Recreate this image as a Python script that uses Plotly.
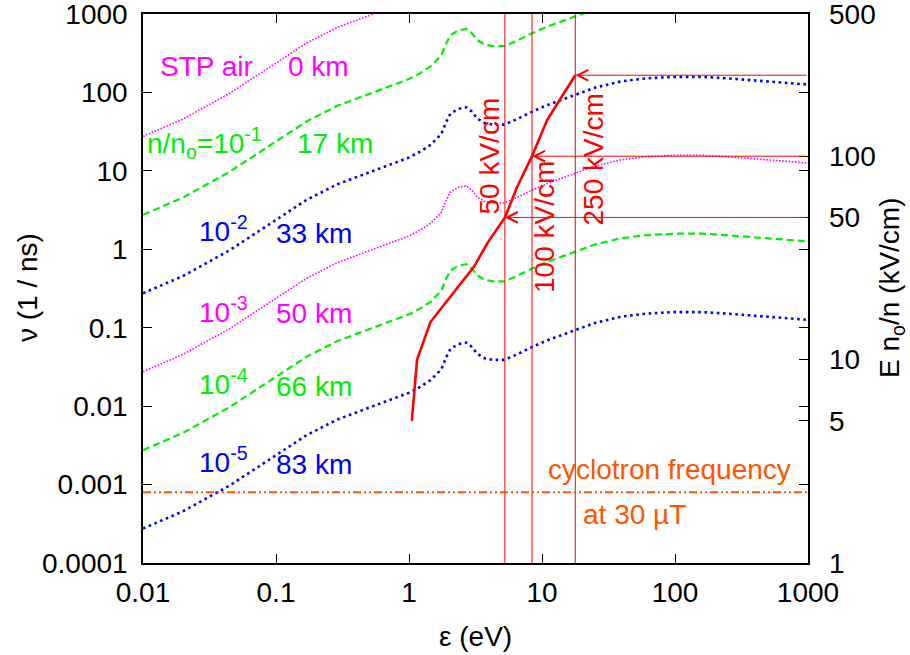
import math
import plotly.graph_objects as go

# ---------------- data ----------------
# electron energy grid (eV)
eps = [0.01, 0.02, 0.045, 0.1, 0.17, 0.29, 0.46, 0.7, 1.0, 1.2, 1.45, 1.75, 1.9, 2.05,
       2.35, 2.7, 2.95, 3.25, 3.7, 4.3, 5.2, 6.5, 8.3, 11, 17, 25, 39, 60, 97, 160,
       250, 400, 650, 1000]

# collision frequency nu (1/ns) at each altitude / relative density
nu_0km = [27.5, 45.7, 97.7, 240, 427, 676, 912, 1180, 1480, 1740, 2140, 2950, 4170, 5370,
          6170, 6460, 5750, 4680, 4070, 3890, 3890, 4570, 5620, 6920, 9120, 11500, 13800, 15100, 15800, 15800,
          15100, 14300, 13500, 12600]
nu_17km = [2.75, 4.57, 9.77, 24.0, 42.7, 67.6, 91.2, 118, 148, 174, 214, 295, 417, 537,
           617, 646, 575, 468, 407, 389, 389, 457, 562, 692, 912, 1150, 1380, 1510, 1580, 1580,
           1510, 1430, 1350, 1260]
nu_33km = [0.275, 0.457, 0.977, 2.40, 4.27, 6.76, 9.12, 11.8, 14.8, 17.4, 21.4, 29.5, 41.7, 53.7,
           61.7, 64.6, 57.5, 46.8, 40.7, 38.9, 38.9, 45.7, 56.2, 69.2, 91.2, 115, 138, 151, 158, 158,
           151, 143, 135, 126]
nu_50km = [0.0275, 0.0457, 0.0977, 0.240, 0.427, 0.676, 0.912, 1.18, 1.48, 1.74, 2.14, 2.95, 4.17, 5.37,
           6.17, 6.46, 5.75, 4.68, 4.07, 3.89, 3.89, 4.57, 5.62, 6.92, 9.12, 11.5, 13.8, 15.1, 15.8, 15.8,
           15.1, 14.3, 13.5, 12.6]
nu_66km = [0.00275, 0.00457, 0.00977, 0.0240, 0.0427, 0.0676, 0.0912, 0.118, 0.148, 0.174, 0.214, 0.295, 0.417, 0.537,
           0.617, 0.646, 0.575, 0.468, 0.407, 0.389, 0.389, 0.457, 0.562, 0.692, 0.912, 1.15, 1.38, 1.51, 1.58, 1.58,
           1.51, 1.43, 1.35, 1.26]
nu_83km = [0.000275, 0.000457, 0.000977, 0.00240, 0.00427, 0.00676, 0.00912, 0.0118, 0.0148, 0.0174, 0.0214, 0.0295, 0.0417, 0.0537,
           0.0617, 0.0646, 0.0575, 0.0468, 0.0407, 0.0389, 0.0389, 0.0457, 0.0562, 0.0692, 0.0912, 0.115, 0.138, 0.151, 0.158, 0.158,
           0.151, 0.143, 0.135, 0.126]

# reduced field vs mean energy (right axis, kV/cm)
eps_field = [1.05, 1.15, 1.45, 1.73, 2.44, 3.07, 3.87, 5.26, 6.5, 8.41, 10.9, 13.8, 17.8]
E_field = [5.0, 10.0, 15.3, 17.8, 23.6, 28.5, 37.2, 50, 70.5, 100, 150, 192, 250]

# marked fields and the energies they correspond to
E_marks = [50, 100, 250]
eps_marks = [5.26, 8.41, 17.8]
mark_labels = ["50 kV/cm", "100 kV/cm", "250 kV/cm"]

# electron cyclotron frequency at 30 microtesla (1/ns)
nu_cyclotron = 8.0e-4

x_tickvals = [0.01, 0.1, 1, 10, 100, 1000]
x_ticktext = ["0.01", "0.1", "1", "10", "100", "1000"]
y_tickvals = [1e-4, 1e-3, 1e-2, 0.1, 1, 10, 100, 1000]
y_ticktext = ["0.0001", "0.001", "0.01", "0.1", "1", "10", "100", "1000"]
y2_tickvals = [1, 5, 10, 50, 100, 500]
y2_ticktext = ["1", "5", "10", "50", "100", "500"]

# ---------------- styles ----------------
FONT = "Liberation Sans, Arial, Helvetica, sans-serif"
FS = 28
MAGENTA = "#ff00ff"
GREEN = "#00ee00"
BLUE = "#0000ff"
RED = "#ff0000"
ORANGE = "#ff5500"

W, H = 910, 655
ML, MR, MT, MB = 143, 102, 14, 92
PW, PH = W - ML - MR, H - MT - MB


def px(xp):
    return (xp - ML) / PW


def py(yp):
    return (H - MB - yp) / PH


fig = go.Figure()

mag_line = dict(color=MAGENTA, width=1.6, dash="1.6px,1.6px")
green_line = dict(color=GREEN, width=2.2, dash="7px,4px")
blue_line = dict(color=BLUE, width=2.6, dash="2.6px,3.6px")

series = [
    (nu_0km, mag_line), (nu_17km, green_line), (nu_33km, blue_line),
    (nu_50km, mag_line), (nu_66km, green_line), (nu_83km, blue_line),
]
for ys, ln in series:
    fig.add_trace(go.Scatter(x=eps, y=ys, mode="lines", line=ln, hoverinfo="skip"))

# vertical marker lines
for e in eps_marks:
    fig.add_trace(go.Scatter(x=[e, e], y=[y_tickvals[0], y_tickvals[-1]], mode="lines",
                             line=dict(color=RED, width=1), hoverinfo="skip"))

# cyclotron frequency line
fig.add_trace(go.Scatter(x=[x_tickvals[0], x_tickvals[-1]], y=[nu_cyclotron, nu_cyclotron], mode="lines",
                         line=dict(color=ORANGE, width=2, dash="8px,3px,2px,3px,2px,3px"), hoverinfo="skip"))

# field curve on right axis
fig.add_trace(go.Scatter(x=eps_field, y=E_field, mode="lines", yaxis="y2",
                         line=dict(color=RED, width=2.6), hoverinfo="skip"))

annotations = []
# arrows from right border to the field curve
for e, E in zip(eps_marks, E_marks):
    annotations.append(dict(x=math.log10(e), y=math.log10(E), xref="x", yref="y2",
                            ax=math.log10(x_tickvals[-1]), ay=math.log10(E), axref="x", ayref="y2",
                            showarrow=True, arrowhead=5, arrowsize=2.1, arrowwidth=1,
                            arrowcolor=RED, standoff=0, text=""))


def label(text, xp, yp, color, xanchor="center", angle=0):
    annotations.append(dict(text=text, x=px(xp), y=py(yp), xref="paper", yref="paper",
                            xanchor=xanchor, yanchor="middle", showarrow=False, textangle=angle,
                            font=dict(family=FONT, size=FS, color=color)))


label("STP air", 206, 66, MAGENTA)
label("0 km", 318, 66, MAGENTA)
label("n/n<sub>o</sub>=10<sup>-1</sup>", 145, 143, GREEN, xanchor="left")
label("17 km", 335, 143, GREEN)
label("10<sup>-2</sup>", 197, 229, BLUE, xanchor="left")
label("33 km", 314, 233, BLUE)
label("10<sup>-3</sup>", 197, 310, MAGENTA, xanchor="left")
label("50 km", 314, 314, MAGENTA)
label("10<sup>-4</sup>", 197, 382, GREEN, xanchor="left")
label("66 km", 314, 386, GREEN)
label("10<sup>-5</sup>", 197, 460, BLUE, xanchor="left")
label("83 km", 314, 464, BLUE)
for (lab, xp, yp) in zip(mark_labels, [488.5, 544, 592.5], [156, 227, 160]):
    label(lab, xp, yp, RED, angle=-90)
label("cyclotron frequency", 669, 469, ORANGE)
label("at 30 \u00b5T", 634.5, 514, ORANGE)

# axis titles
label("\u03b5 (eV)", 475, 636, "black")
label("\u03bd (1 / ns)", 27, 288, "black", angle=-90)
label("E n<sub>o</sub>/n (kV/cm)", 891, 288, "black", angle=-90)

axis_common = dict(type="log", showgrid=False, zeroline=False, ticks="inside", ticklen=9,
                   tickwidth=1.2, tickcolor="black", showline=True, linecolor="black", linewidth=1.5,
                   automargin=False, ticklabeloverflow="allow",
                   tickfont=dict(family=FONT, size=FS, color="black"))

fig.update_layout(
    width=W, height=H,
    margin=dict(l=ML, r=MR, t=MT, b=MB, autoexpand=False),
    plot_bgcolor="white", paper_bgcolor="white",
    showlegend=False,
    font=dict(family=FONT, size=FS, color="black"),
    xaxis=dict(range=[-2, 3], tickvals=x_tickvals, ticktext=x_ticktext, mirror="ticks",
               ticklabelstandoff=4, **axis_common),
    yaxis=dict(range=[-4, 3], tickvals=y_tickvals, ticktext=y_ticktext, mirror="ticks",
               ticklabelstandoff=8, **axis_common),
    yaxis2=dict(type="log", overlaying="y", side="right", anchor="x",
                range=[0, math.log10(500)], tickvals=y2_tickvals, ticktext=y2_ticktext,
                showgrid=False, zeroline=False, ticks="inside", ticklen=9, tickwidth=1.2,
                tickcolor="black", showline=False, ticklabelstandoff=20, automargin=False,
                ticklabeloverflow="allow",
                tickfont=dict(family=FONT, size=FS, color="black")),
    annotations=annotations,
)

fig.write_html("out.html", config={"displayModeBar": False},
               post_script="document.body.style.margin='0';")
